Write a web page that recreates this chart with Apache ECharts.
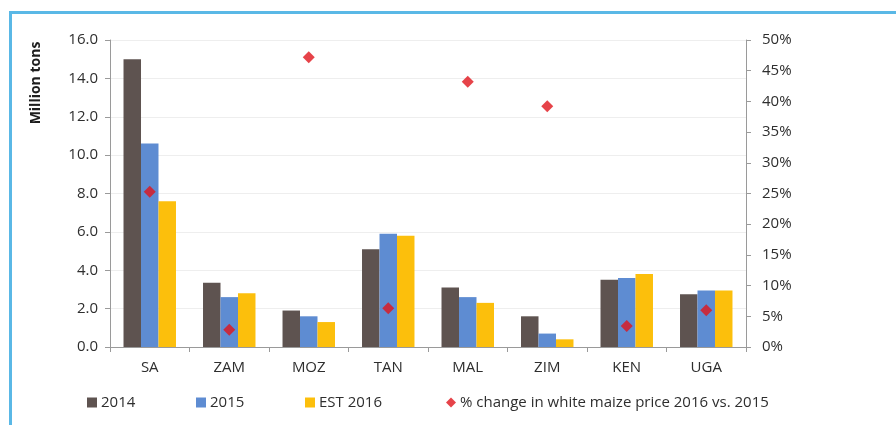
<!DOCTYPE html>
<html>
<head>
<meta charset="utf-8">
<script src="https://cdn.jsdelivr.net/npm/echarts@6/dist/echarts.min.js"></script>
<style>
  html, body { margin: 0; padding: 0; background: #fff; }
  #wrap { position: relative; width: 896px; height: 425px; }
  #chart { width: 896px; height: 425px; }
  /* blue frame, top + left only */
  .frame {
    position: absolute; left: 9px; top: 11px; right: 0; bottom: 0;
    border-top: 3px solid #5ab8e6; border-left: 3px solid #5ab8e6;
    pointer-events: none;
  }
</style>
</head>
<body>
<div id="wrap">
  <div id="chart"></div>
  <div class="frame"></div>
</div>
<script>
const countries = ['SA', 'ZAM', 'MOZ', 'TAN', 'MAL', 'ZIM', 'KEN', 'UGA']
const tons2014 = [15.0, 3.35, 1.9, 5.1, 3.1, 1.6, 3.5, 2.75]
const tons2015 = [10.6, 2.6, 1.6, 5.9, 2.6, 0.7, 3.6, 2.95]
const tons2016 = [7.6, 2.8, 1.3, 5.8, 2.3, 0.4, 3.8, 2.95]
const priceChange = [25.3, 2.8, 47.2, 6.3, 43.2, 39.2, 3.4, 6.0]

const font = '"Open Sans", sans-serif'
const textColor = '#2e2e2e'
const axisColor = '#9a9a9a'

const chart = echarts.init(document.getElementById('chart'))

// one legend per item so spacing can follow the original
function legendAt(name, left, icon, w, h) {
  return {
    data: [{ name: name, icon: icon }],
    left: left,
    top: 390,
    itemWidth: w,
    itemHeight: h,
    itemGap: 0,
    textStyle: { fontFamily: font, fontSize: 15, color: textColor, padding: [0, 0, 0, -1] },
    selectedMode: false
  }
}

const option = {
  animation: false,
  grid: { left: 110, right: 150, top: 40, bottom: 78 },
  legend: [
    legendAt('2014', 82, 'rect', 10, 10),
    legendAt('2015', 191, 'rect', 10, 10),
    legendAt('EST 2016', 300, 'rect', 10, 10),
    legendAt('% change in white maize price 2016 vs. 2015', 441, 'diamond', 10, 10)
  ],
  graphic: [{
    type: 'text',
    x: 36,
    y: 83,
    rotation: Math.PI / 2,
    style: {
      text: 'Million tons',
      font: 'bold 14px ' + font,
      fill: '#1e1e1e',
      align: 'center',
      verticalAlign: 'middle'
    }
  }],
  xAxis: {
    type: 'category',
    data: countries,
    axisLine: { lineStyle: { color: axisColor } },
    axisTick: { show: true, alignWithLabel: false, length: 5, lineStyle: { color: axisColor } },
    axisLabel: { color: textColor, fontFamily: font, fontSize: 15, margin: 13 }
  },
  yAxis: [
    {
      type: 'value',
      min: 0,
      max: 16,
      interval: 2,
      axisLine: { show: true, lineStyle: { color: axisColor } },
      axisTick: { show: true, length: 5, lineStyle: { color: axisColor } },
      axisLabel: {
        color: textColor, fontFamily: font, fontSize: 15, margin: 12,
        formatter: v => v.toFixed(1)
      },
      splitLine: { lineStyle: { color: '#eeeeee' } }
    },
    {
      type: 'value',
      min: 0,
      max: 50,
      interval: 5,
      position: 'right',
      axisLine: { show: true, lineStyle: { color: axisColor } },
      axisTick: { show: true, length: 5, lineStyle: { color: axisColor } },
      axisLabel: { color: textColor, fontFamily: font, fontSize: 15, margin: 16, formatter: '{value}%' },
      splitLine: { show: false }
    }
  ],
  series: [
    {
      name: '2014', type: 'bar', data: tons2014,
      barGap: 0, barCategoryGap: '34%',
      itemStyle: { color: '#5e5350' }
    },
    {
      name: '2015', type: 'bar', data: tons2015,
      itemStyle: { color: '#5e8cd2' }
    },
    {
      name: 'EST 2016', type: 'bar', data: tons2016,
      itemStyle: { color: '#fcbf0c' }
    },
    {
      name: '% change in white maize price 2016 vs. 2015',
      type: 'scatter', yAxisIndex: 1, data: priceChange,
      symbol: 'diamond', symbolSize: 12,
      itemStyle: { color: '#e0141c' },
      z: 5
    }
  ]
}

chart.setOption(option)
</script>
</body>
</html>
